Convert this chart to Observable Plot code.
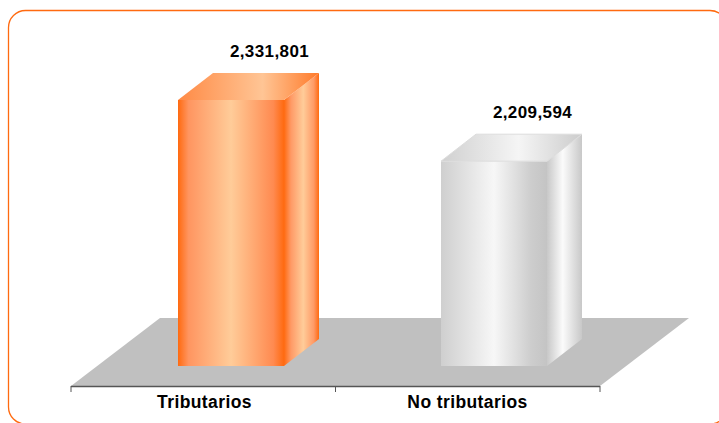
<!DOCTYPE html>
<html><head><meta charset="utf-8">
<style>html,body{margin:0;padding:0;background:#fff;overflow:hidden}svg{display:block}</style>
<script src="https://cdn.jsdelivr.net/npm/d3@7"></script>
<script src="https://cdn.jsdelivr.net/npm/@observablehq/plot@0.6"></script>
</head><body><div id="chart"></div>
<script>
const categories = ["Tributarios", "No tributarios"];
const values = [2331801, 2209594];
const fills = ["orange", "silver"];
const axisMin = 1800000, axisMax = 2572000;

// oblique projection: how far the depth of the floor and of a bar shifts things
const floorDepth = [89, 68];
const barDepth = [35, 27];
const barShift = [27, 20];
const tickLength = 6;

const data = categories.map((c, i) => ({category: c, value: values[i], tone: fills[i]}));
const NS = "http://www.w3.org/2000/svg";

function gradient(id, stops) {
  const g = document.createElementNS(NS, "linearGradient");
  g.setAttribute("id", id);
  stops.forEach(([o, c]) => {
    const s = document.createElementNS(NS, "stop");
    s.setAttribute("offset", o); s.setAttribute("stop-color", c);
    g.appendChild(s);
  });
  return g;
}
const defs = () => {
  const d = document.createElementNS(NS, "defs");
  d.appendChild(gradient("orange", [[0, "#ff6a10"], [0.1, "#ff9560"], [0.5, "#ffcc99"], [0.9, "#ff8a50"], [1, "#ff6a10"]]));
  d.appendChild(gradient("silver", [[0, "#cfcfcf"], [0.5, "#f7f7f7"], [0.85, "#cdcdcd"], [1, "#c4c4c4"]]));
  d.appendChild(gradient("orangeSide", [[0, "#ff6a10"], [0.2, "#ff9a66"], [0.55, "#ffcc99"], [0.85, "#ff9a66"], [1, "#ff6a10"]]));
  d.appendChild(gradient("silverSide", [[0, "#c8c8c8"], [0.45, "#fbfbfb"], [1, "#c8c8c8"]]));
  d.appendChild(gradient("orangeTop", [[0, "#ff8a45"], [0.6, "#ffc595"], [1, "#ff7a2a"]]));
  d.appendChild(gradient("silverTop", [[0, "#d0d0d0"], [0.55, "#f5f5f5"], [1, "#cccccc"]]));
  return d;
};

function poly(points, fill, stroke) {
  const p = document.createElementNS(NS, "polygon");
  p.setAttribute("points", points.map(q => q.join(",")).join(" "));
  p.setAttribute("fill", fill);
  if (stroke) { p.setAttribute("stroke", stroke); p.setAttribute("stroke-width", 1); }
  return p;
}

// rounded panel, running off the right and bottom of the picture
const panel = (index, scales, channels, dims) => {
  const r = document.createElementNS(NS, "rect");
  r.setAttribute("x", 8.5); r.setAttribute("y", 10.5);
  r.setAttribute("width", dims.width + 8 - 8.5);
  r.setAttribute("height", dims.height + 1 - 10.5);
  r.setAttribute("rx", 17); r.setAttribute("ry", 17);
  r.setAttribute("fill", "none");
  r.setAttribute("stroke", "#ff6a10");
  r.setAttribute("stroke-width", 1.3);
  return r;
};

// grey floor of the 3D plot, with the category-boundary ticks under it
const floor = (index, {x, y}) => {
  const [left, right] = x.range();
  const base = y(axisMin);
  const g = document.createElementNS(NS, "g");
  g.appendChild(poly([[left, base], [right, base], [right + floorDepth[0], base - floorDepth[1]], [left + floorDepth[0], base - floorDepth[1]]], "#c0c0c0"));
  for (const t of [left, (left + right) / 2, right]) {
    const l = document.createElementNS(NS, "line");
    l.setAttribute("x1", t); l.setAttribute("x2", t);
    l.setAttribute("y1", base); l.setAttribute("y2", base + tickLength);
    l.setAttribute("stroke", "#555");
    g.appendChild(l);
  }
  return g;
};

// bar with gradient front, plus side and top faces derived from the same scales
const bars = Plot.barY(data, {
  x: "category", y1: axisMin, y2: "value",
  render(index, scales, channels, dims, ctx) {
    const g = document.createElementNS(NS, "g");
    for (const d of data) {
      const left = scales.x(d.category) + barShift[0];
      const right = left + scales.x.bandwidth();
      const top = scales.y(d.value) - barShift[1];
      const bot = scales.y(axisMin) - barShift[1];
      const [dx, dy] = barDepth;
      const edge = d.tone === "silver" ? "#dcdcdc" : null;
      g.appendChild(poly([[left, top], [right, top], [right, bot], [left, bot]], `url(#${d.tone})`));
      g.appendChild(poly([[right, top], [right + dx, top - dy], [right + dx, bot - dy], [right, bot]], `url(#${d.tone}Side)`));
      g.appendChild(poly([[left, top], [left + dx, top - dy], [right + dx, top - dy], [right, top]], `url(#${d.tone}Top)`, edge));
    }
    return g;
  }
});

const chart = Plot.plot({
  width: 719, height: 423,
  marginLeft: 71, marginRight: 119, marginTop: 0, marginBottom: 37,
  style: {background: "#fff", fontFamily: "'Liberation Sans', Arial, sans-serif", letterSpacing: "0.4px"},
  x: {domain: categories, paddingInner: 0.598, paddingOuter: 0.304, align: 0.5, axis: null},
  y: {domain: [axisMin, axisMax], range: [386, 0], axis: null},
  marks: [
    defs,
    panel,
    floor,
    bars,
    Plot.ruleY([axisMin], {stroke: "#555", strokeWidth: 1.5}),
    Plot.text(data, {x: "category", y: "value", text: d => d3.format(",")(d.value), dx: 65, dy: -69,
      fontSize: 17, fontWeight: "bold", fill: "#000"}),
    Plot.text(categories, {x: d => d, frameAnchor: "bottom", dx: 0, dy: 21, fontSize: 17.5, fontWeight: "bold", fill: "#000"})
  ]
});
document.getElementById("chart").appendChild(chart);
</script></body></html>
